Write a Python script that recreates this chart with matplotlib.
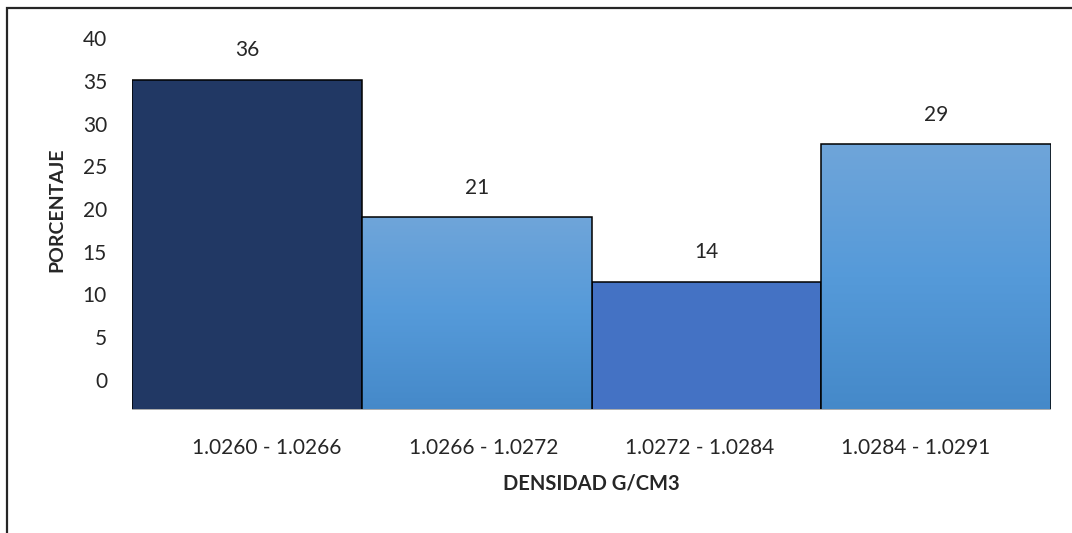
import numpy as np
import matplotlib.pyplot as plt
from matplotlib.patches import Rectangle
from matplotlib.colors import LinearSegmentedColormap

categorias = ['1.0260 - 1.0266', '1.0266 - 1.0272', '1.0272 - 1.0284', '1.0284 - 1.0291']
porcentaje = [36, 21, 14, 29]
etiquetas = [36, 21, 14, 29]
colores = ['#213864', None, '#4472C4', None]
ticks_y = [0, 5, 10, 15, 20, 25, 30, 35, 40]

W, H = 1072, 533
plt.rcParams['font.family'] = ['Lato', 'DejaVu Sans']

fig = plt.figure(figsize=(W / 100, H / 100), dpi=100)
fig.patch.set_facecolor('white')

# outer frame (runs off the right and bottom edges)
fig.add_artist(Rectangle((7 / W, -0.05), 1.2, 1 - 8 / H + 0.05, transform=fig.transFigure,
                         fill=False, edgecolor='#262626', linewidth=1.6))

left, right, bottom, top = 132, 1051, 410, 36
ax = fig.add_axes([left / W, 1 - bottom / H, (right - left) / W, (bottom - top) / H])
px_por_unidad = 9.17
ax.set_ylim(0, (bottom - top) / px_por_unidad)
ax.set_xlim(-0.5, len(categorias) - 0.5)

grad = LinearSegmentedColormap.from_list('g', ['#4589C9', '#559AD9', '#6FA5DA'])
x = np.arange(len(categorias))
bars = ax.bar(x, porcentaje, width=1.0, color=[c if c else '#559AD9' for c in colores],
              edgecolor='black', linewidth=1.1, zorder=3)
for b, c in zip(bars, colores):
    if c is None:
        x0, y0, w, h = b.get_x(), b.get_y(), b.get_width(), b.get_height()
        im = ax.imshow(np.linspace(0, 1, 256).reshape(-1, 1), cmap=grad, origin='lower',
                       extent=[x0, x0 + w, y0, y0 + h], aspect='auto', zorder=3)
        im.set_clip_path(b)
        b.set_facecolor('none')
        b.set_zorder(4)

for xi, v, lab in zip(x, porcentaje, etiquetas):
    ax.annotate(str(lab), (xi, v), xytext=(0, 14), textcoords='offset points',
                ha='center', va='bottom', fontsize=15, color='#262626')

ax.axhline(0, color='#BFBFBF', linewidth=2, zorder=5)
for s in ax.spines.values():
    s.set_visible(False)
ax.set_yticks([])
ax.set_xticks([])

# category labels sit on a slightly narrower spacing than the bars, as in the original
ax3 = ax.twiny()
ax3.xaxis.tick_bottom()
ax3.xaxis.set_label_position('bottom')
lab_left, lab_step = 267, 216.3
ax3.set_xlim((left - lab_left) / lab_step, (right - lab_left) / lab_step)
ax3.set_xticks(x)
ax3.set_xticklabels(categorias, fontsize=15, color='#262626')
ax3.tick_params(axis='x', length=0, pad=20)
ax3.set_xlabel('DENSIDAD G/CM3', fontsize=14.5, fontweight='bold', color='#262626', labelpad=11)
for s in ax3.spines.values():
    s.set_visible(False)

# value labels of the y axis (drawn on their own scale, as in the original)
ax2 = ax.twinx()
px_label = 8.55
ax2.set_ylim(-(bottom - 380) / px_label, (380 - top) / px_label)
ax2.yaxis.tick_left()
ax2.set_yticks(ticks_y)
ax2.set_yticklabels([str(t) for t in ticks_y], fontsize=15, color='#262626')
ax2.tick_params(axis='y', length=0, pad=18)
for s in ax2.spines.values():
    s.set_visible(False)
fig.text(57 / W, 1 - 210 / H, 'PORCENTAJE', rotation=90, ha='center', va='center',
         fontsize=14, fontweight='bold', color='#262626')

fig.savefig('out.png', dpi=100)
